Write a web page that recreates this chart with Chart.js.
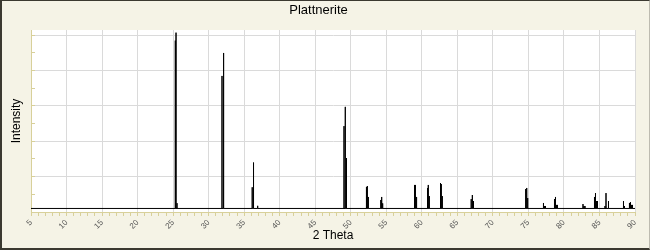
<!DOCTYPE html>
<html><head><meta charset="utf-8">
<script src="https://cdn.jsdelivr.net/npm/chart.js@4/dist/chart.umd.min.js"></script>
<style>
html,body{margin:0;padding:0;background:#f5f3e6;}
#wrap{position:absolute;left:0;top:0;width:650px;height:250px;box-sizing:border-box;
border-left:2px solid #3b3930;border-top:1px solid #3b3930;border-bottom:2px solid #3b3930;border-right:1px solid #bdbbb0;background:#f5f3e6;}
canvas{display:block;}
</style></head><body>
<div id="wrap"><canvas id="c" width="647" height="247"></canvas></div>
<script>
// Peak positions (2 Theta, degrees) and intensities
const peakPos = [
  25.31, 25.41, 25.55,
  31.88, 32.02, 32.16,
  36.13, 36.25, 36.36, 36.90,
  49.05, 49.23, 49.40,
  52.21, 52.33, 52.47,
  54.23, 54.35, 54.49,
  58.97, 59.10, 59.26,
  60.80, 60.91, 61.05,
  62.63, 62.74, 62.88,
  66.95, 67.11, 67.27,
  74.62, 74.76, 74.90,
  77.12, 77.26, 77.40,
  78.67, 78.81, 78.95, 79.09,
  82.68, 82.82, 82.96,
  84.30, 84.44, 84.58, 84.72,
  85.78, 85.92, 86.27,
  88.38, 88.52, 89.22, 89.36, 89.50, 89.64
];
const peakHeight = [
  97, 101.5, 5,
  77, 90, 19,
  14, 28, 14, 3.5,
  48.6, 59.5, 30.5,
  14.1, 14.7, 8.5,
  6.8, 8.5, 4.9,
  15.3, 15.3, 8.5,
  13.6, 15.3, 9,
  16.4, 15.8, 9,
  7.3, 9.6, 6.2,
  13, 13.6, 7.9,
  5.1, 3.4, 3.4,
  7.3, 8.5, 4, 4,
  4.5, 3.4, 3.4,
  8.5, 10.7, 6.2, 6.2,
  3.4, 10.7, 6.2,
  6.2, 3.4, 5.1, 5.6, 4, 4
];
const baseline = 2;
const xRange = [5, 90];
const yRange = [0, 103];

const pts = [{x: xRange[0], y: baseline}];
for (let i = 0; i < peakPos.length; i++) {
  pts.push({x: peakPos[i], y: baseline});
  pts.push({x: peakPos[i], y: peakHeight[i]});
  pts.push({x: peakPos[i], y: baseline});
}
pts.push({x: xRange[1], y: baseline});

const axisCol = '#d8d09a';
const gridCol = '#dadada';
const FONT = 'Liberation Sans, Arial, sans-serif';

const plotBg = {
  id: 'plotBg',
  beforeDraw(chart) {
    const {ctx, chartArea: a} = chart;
    ctx.save();
    ctx.fillStyle = '#ffffff';
    ctx.fillRect(a.left, a.top, a.right - a.left, a.bottom - a.top);
    ctx.restore();
  }
};

new Chart(document.getElementById('c'), {
  type: 'line',
  data: { datasets: [{ data: pts, borderColor: '#000', borderWidth: 1, pointRadius: 0, tension: 0, fill: false }] },
  options: {
    responsive: false, animation: false, devicePixelRatio: 1,
    layout: { padding: { left: 0, right: 14, top: 0, bottom: 0 } },
    plugins: {
      legend: { display: false },
      tooltip: { enabled: false },
      title: { display: true, text: 'Plattnerite', color: '#000',
        font: { family: FONT, size: 13, weight: 'normal' }, padding: { top: 1.5, bottom: 11.9 } }
    },
    scales: {
      x: {
        type: 'linear', min: xRange[0], max: xRange[1],
        afterFit: s => { s.height = 36; },
        grid: {
          color: c => (c.tick && c.tick.value % 5 === 0) ? gridCol : 'rgba(0,0,0,0)',
          tickColor: axisCol, tickLength: 4
        },
        border: { color: axisCol },
        ticks: { stepSize: 1, autoSkip: false, minRotation: 45, maxRotation: 45, padding: 2,
          callback: v => (v % 5 === 0 ? String(v) : ''), color: '#555',
          font: { family: FONT, size: 8 } },
        title: { display: true, text: '2 Theta', color: '#000',
          font: { family: FONT, size: 12 }, padding: { top: 0, bottom: 5 } }
      },
      y: {
        min: yRange[0], max: yRange[1],
        afterFit: s => { s.width = 29; },
        grid: {
          color: c => (c.tick && c.tick.value % 20 === 0 && c.tick.value > 0) ? gridCol : 'rgba(0,0,0,0)',
          tickColor: axisCol, tickLength: -4
        },
        border: { color: axisCol },
        ticks: { display: false, stepSize: 10, includeBounds: false },
        title: { display: true, text: 'Intensity', color: '#000',
          font: { family: FONT, size: 12 }, padding: { top: 7, bottom: 0 } }
      }
    }
  },
  plugins: [plotBg]
});
</script>
</body></html>
